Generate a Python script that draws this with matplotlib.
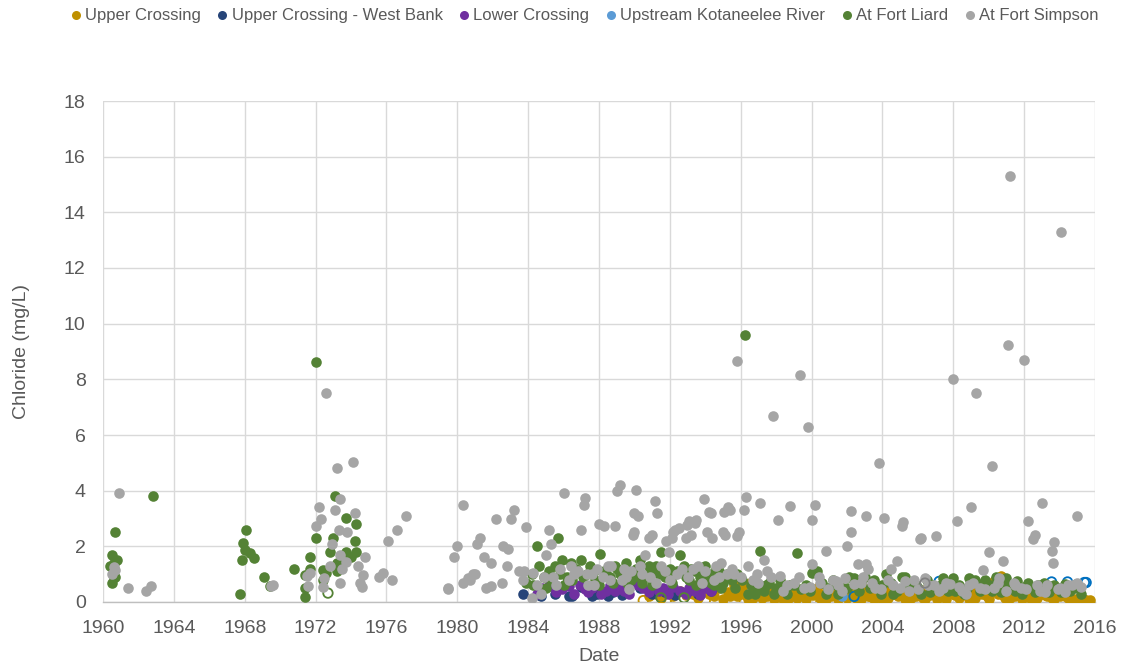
import matplotlib
matplotlib.use("Agg")
import matplotlib.pyplot as plt
from matplotlib.lines import Line2D

plt.rcParams['font.family'] = ['Liberation Sans', 'DejaVu Sans']

# ---------------- data (decimal year, chloride mg/L) ----------------
upper_x = [1990.8,1991.2,1991.5,1991.9,1992.2,1992.6,1992.9,1993.3,1993.6,1993.9,1994.2,1994.5,1994.8,1995.0,1995.3,1995.6,1995.8,1995.95,1996.1,1996.3,1996.5,1996.7,1996.9,1997.1,1997.3,1997.5,1997.7,1997.9,1998.1,1998.3,1998.5,1998.7,1998.9,1999.1,1999.3,1999.5,1999.7,1999.9,2000.1,2000.3,2000.5,2000.7,2000.9,2001.1,2001.3,2001.5,2001.7,2001.9,2002.1,2002.3,2002.5,2002.7,2002.9,2003.1,2003.3,2003.5,2003.7,2003.9,2004.1,2004.3,2004.5,2004.7,2004.9,2005.1,2005.3,2005.5,2005.7,2005.9,2006.1,2006.3,2006.5,2006.7,2006.9,2007.1,2007.3,2007.5,2007.7,2007.9,2008.1,2008.3,2008.5,2008.7,2008.9,2009.1,2009.3,2009.5,2009.7,2009.9,2010.1,2010.3,2010.5,2010.7,2010.9,2011.1,2011.3,2011.5,2011.7,2011.9,2012.1,2012.3,2012.5,2012.7,2012.9,2013.1,2013.3,2013.5,2013.7,2013.9,2014.1,2014.3,2014.5,2014.7,2014.9,2015.1,2015.3,2015.5,2015.7]
upper_y = [0.2,0.3,0.15,0.35,0.2,0.4,0.25,0.3,0.15,0.45,0.3,0.2,0.5,0.1,0.35,0.6,0.2,0.86,0.5,0.25,0.7,0.15,0.4,0.3,0.55,0.2,0.35,0.1,0.45,0.25,0.3,0.15,0.5,0.3,0.2,0.4,0.1,0.35,0.25,0.5,0.15,0.3,0.45,0.2,0.35,0.1,0.4,0.25,0.3,0.5,0.15,0.35,0.2,0.45,0.3,0.1,0.4,0.25,0.35,0.15,0.5,0.3,0.2,0.4,0.1,0.3,0.45,0.2,0.35,0.15,0.5,0.25,0.3,0.1,0.4,0.2,0.35,0.55,0.25,0.15,0.4,0.3,0.1,0.45,0.25,0.35,0.6,0.2,0.4,0.75,0.3,0.92,0.15,0.5,0.3,0.2,0.4,0.1,0.35,0.25,0.45,0.15,0.3,0.5,0.2,0.35,0.1,0.3,0.45,0.2,0.15,0.1,0.12,0.08,0.1,0.07,0.08]
upper_x2 = [1995.4,1995.7,1996.0,1996.4,1996.8,1997.2,1997.6,1998.0,1998.4,1998.8,1999.2,1999.6,2000.0,2000.4,2000.8,2001.2,2001.6,2002.0,2002.4,2002.8,2003.2,2003.6,2004.0,2004.4,2004.8,2005.2,2005.6,2006.0,2006.4,2006.8,2007.2,2007.6,2008.0,2008.4,2008.8,2009.2,2009.6,2010.0,2010.4,2010.8,2011.2,2011.6,2012.0,2012.4,2012.8,2013.2,2013.6,2014.0,2014.4]
upper_y2 = [0.2,0.4,0.3,0.1,0.35,0.15,0.45,0.25,0.1,0.35,0.15,0.25,0.4,0.2,0.1,0.3,0.2,0.15,0.35,0.1,0.2,0.3,0.1,0.25,0.4,0.2,0.15,0.3,0.1,0.4,0.25,0.1,0.3,0.2,0.45,0.15,0.3,0.1,0.5,0.25,0.15,0.3,0.2,0.1,0.4,0.25,0.15,0.2,0.3]
upper_nd_x = [1990.5,1991.8,1994.0,1996.2,1998.0,2000.0,2003.0,2006.0,2009.0,2012.0]
upper_nd_y = [0.05,0.05,0.05,0.05,0.05,0.05,0.05,0.05,0.05,0.05]

west_x = [1983.7,1984.6,1984.7,1985.5,1986.3,1986.5,1987.0,1987.6,1987.9,1988.5,1988.8,1989.3,1989.6,1990.1,1990.3,1991.0,1991.7,1992.3,1993.0,1993.6,1994.3]
west_y = [0.3,0.25,0.2,0.3,0.2,0.2,0.55,0.2,0.3,0.2,0.35,0.25,0.4,0.9,0.5,0.3,0.35,0.25,0.4,0.3,0.4]

lower_x = [1984.5,1984.8,1985.2,1985.4,1985.6,1985.9,1986.2,1986.3,1986.6,1986.9,1987.2,1987.4,1987.6,1987.9,1988.1,1988.4,1988.6,1988.9,1989.1,1989.4,1989.7,1990.0,1990.2,1990.5,1990.8,1991.1,1991.4,1991.6,1991.9,1992.2,1992.6,1992.9,1993.1,1993.4,1993.7,1994.0,1994.3]
lower_y = [0.3,0.5,0.56,0.7,0.35,0.45,0.68,0.56,0.3,0.6,0.45,0.35,0.5,0.65,0.3,0.4,0.6,0.4,0.55,0.4,0.3,0.7,0.6,0.5,0.35,0.6,0.4,0.5,0.3,0.55,0.4,0.3,0.5,0.4,0.25,0.5,0.4]

kotan_x = [2001.7]
kotan_y = [0.2]
kotan_nd_x = [2002.4,2007.2,2013.55,2014.45,2015.4,2015.5]
kotan_nd_y = [0.2,0.74,0.72,0.72,0.7,0.7]

liard_x = [1960.4,1960.5,1960.5,1960.6,1960.7,1960.7,1960.8,1960.6,1962.8,
           1967.76,1967.85,1967.9,1968.0,1968.1,1968.3,1968.5,1969.1,1969.4,
           1970.8,1971.4,1971.4,1971.4,1971.7,1971.7,1972.0,1972.0,1972.4,1972.4,1972.6,1972.8,1973.0,1973.1,1973.2,1973.2,1973.7,1973.7,1974.0,1974.2,1974.3,1974.3,
           1983.9,1984.2,1984.5,1984.6,1984.9,1985.2,1985.5,1985.7,1985.9,1986.2,1986.4,1986.7,1987.0,1987.3,1987.5,1987.8,1988.05,1988.3,1988.6,1988.9,1989.2,1989.5,1989.8,1990.1,1990.3,1990.6,1990.9,1991.2,1991.5,1991.7,1992.0,1992.3,1992.6,1992.8,1993.1,1993.4,1993.7,1994.0,1994.3,1994.6,1994.9,1995.2,1995.5,1995.8,1996.25,1996.4,1996.6,1996.9,1997.1,1997.3,1997.6,1997.9,1998.2,1998.5,1998.8,1999.2,1999.4,1999.7,2000.0,2000.3,2000.6,2000.9,2001.2,2001.5,2001.8,2002.1,2002.4,2002.7,2003.0,2003.3,2003.6,2003.9,2004.2,2004.5,2004.8,2005.1,2005.3,2005.6,2005.9,2006.2,2006.5,2006.8,2007.1,2007.4,2007.7,2008.0,2008.3,2008.6,2008.9,2009.2,2009.5,2009.8,2010.1,2010.4,2010.7,2011.0,2011.3,2011.6,2011.9,2012.2,2012.5,2012.8,2013.1,2013.4,2013.7,2014.0,2014.3,2014.6,2014.9,2015.2]
liard_y = [1.28,1.7,0.68,0.9,2.5,0.9,1.52,1.4,3.8,
           0.29,1.52,2.12,1.88,2.6,1.76,1.58,0.9,0.59,
           1.19,0.98,0.18,0.51,1.6,1.18,8.62,2.29,1.16,0.8,1.04,1.8,2.3,3.8,1.4,1.1,3.02,1.8,1.6,2.2,2.8,1.8,
           0.7,1.0,2.0,1.3,0.9,1.1,1.3,2.3,1.5,0.9,1.4,1.2,1.5,1.0,1.3,0.8,1.72,1.1,0.9,1.3,1.0,1.4,0.8,1.2,1.5,0.9,1.1,1.3,1.8,0.9,1.2,1.0,1.7,1.3,0.8,1.1,0.9,1.3,0.7,1.2,0.5,1.0,0.8,1.0,9.59,0.3,0.6,0.5,1.82,0.4,0.7,0.3,0.8,0.5,0.6,1.76,0.45,0.6,1.05,1.1,0.7,0.5,0.8,0.3,0.5,0.9,0.85,0.4,0.9,0.5,0.6,0.3,1.02,0.7,0.4,0.9,0.9,0.5,0.6,0.3,0.8,0.6,0.5,0.85,0.4,0.85,0.6,0.3,0.85,0.78,0.4,0.8,0.6,0.9,0.35,0.85,0.5,0.75,0.3,0.7,0.5,0.6,0.7,0.35,0.6,0.5,0.65,0.4,0.65,0.3]
liard_x2 = [1984.3,1985.0,1985.3,1985.8,1986.0,1986.5,1987.1,1987.7,1988.0,1988.4,1988.8,1989.0,1989.6,1990.0,1990.4,1990.8,1991.0,1991.4,1992.1,1992.4,1992.9,1993.2,1993.5,1993.9,1994.2,1994.5,1994.8,1995.0,1995.4,1995.7,
            1996.1,1996.8,1997.4,1998.0,1998.6,1999.0,1999.9,2000.8,2001.4,2002.0,2002.8,2003.5,2004.0,2004.6,2005.4,2006.0,2006.7,2007.3,2008.1,2008.8,2009.6,2010.2,2010.9,2011.5,2012.0,2012.6,2013.3,2014.1,2014.8]
liard_y2 = [0.6,0.5,0.8,1.0,0.6,0.8,0.9,1.1,0.6,1.0,0.7,1.2,0.7,0.9,0.7,1.3,0.6,1.0,0.7,1.1,0.9,1.2,0.6,0.8,1.0,0.6,1.1,0.7,1.0,0.5,
            0.8,0.3,0.6,0.5,0.3,0.6,0.4,0.3,0.6,0.5,0.7,0.8,0.6,0.3,0.7,0.5,0.35,0.6,0.4,0.5,0.65,0.4,0.7,0.4,0.55,0.35,0.6,0.35,0.5]
liard_nd_x = [1972.7,1991.5,1992.8]
liard_nd_y = [0.32,0.15,0.15]

simpson_x = [1960.5,1960.6,1960.7,1960.9,1961.4,1962.45,1962.7,1969.5,1969.6,
             1971.5,1971.55,1971.7,1972.0,1972.2,1972.3,1972.4,1972.5,1972.6,1972.8,1972.9,1973.1,1973.2,1973.3,1973.4,1973.4,1973.4,1973.5,1973.7,1973.8,1974.1,1974.2,1974.4,1974.5,1974.6,1974.65,1974.8,1975.6,1975.8,1976.1,1976.3,1976.6,1977.1,
             1979.45,1979.5,1979.8,1980.0,1980.3,1980.3,1980.6,1980.7,1980.9,1981.0,1981.1,1981.3,1981.5,1981.6,1981.9,1981.9,1982.2,1982.5,1982.6,1982.8,1982.85,1983.05,1983.2,1983.5,1983.7,1983.75,1983.9,1984.2,1984.3,1984.5,1984.7,1985.0,1985.15,1985.3,1985.6,1985.4,1986.05,1986.3,1986.6,1986.8,1987.0,1987.15,1987.2,1987.4,1987.6,1987.7,1988.0,1988.3,1988.5,1988.6,1988.9,1989.0,1989.2,1989.4,1989.5,1989.7,1989.9,1990.0,1990.1,1990.2,1990.0,1990.4,1990.6,1990.8,1991.0,1991.15,1991.3,1991.5,1991.8,1991.95,1992.1,1992.15,1992.3,1992.5,1992.4,1992.9,1992.95,1993.1,1993.2,1993.4,1993.5,1993.3,1993.9,1994.1,1994.2,1994.3,1994.4,1994.6,1994.8,1995.0,1995.05,1995.3,1995.1,1995.4,1995.8,1995.8,1995.9,1995.6,1996.2,1996.3,1996.4,1996.7,1997.1,1997.3,1997.5,1997.8,1998.1,1998.2,1998.6,1998.8,1999.3,1999.35,1999.6,1999.8,2000.0,2000.05,2000.2,2000.5,2000.8,2001.2,2001.5,2001.9,2002.0,2002.2,2002.2,2002.6,2002.8,2003.05,2003.1,2003.2,2003.6,2003.8,2004.1,2004.5,2004.8,2004.6,2005.1,2005.15,2005.5,2005.8,2006.1,2006.2,2006.6,2007.0,2007.4,2007.8,2008.0,2008.2,2008.5,2008.9,2009.0,2009.3,2009.5,2009.7,2010.0,2010.2,2010.5,2010.8,2011.1,2011.2,2011.5,2011.8,2012.0,2012.2,2012.5,2012.6,2012.9,2013.0,2013.3,2013.6,2013.65,2013.7,2014.1,2014.0,2014.5,2015.0,2015.2]
simpson_y = [1.0,1.25,1.15,3.92,0.5,0.38,0.59,0.59,0.6,
             0.92,0.58,1.05,2.72,3.4,3.0,0.55,0.85,7.52,1.3,2.1,3.32,4.82,2.6,3.7,0.7,1.7,1.2,1.45,2.5,5.02,3.2,1.28,0.68,0.55,0.97,1.62,0.9,1.05,2.2,0.8,2.6,3.1,
             0.5,0.48,1.6,2.0,3.5,0.68,0.85,0.8,1.0,1.0,2.08,2.3,1.6,0.5,0.58,1.4,3.0,0.7,2.0,1.3,1.9,3.0,3.32,1.1,0.8,1.1,2.7,0.14,1.05,0.6,0.3,1.7,2.6,2.1,0.6,0.9,3.9,0.8,1.0,1.1,2.6,3.5,3.74,0.6,1.0,0.6,2.8,2.72,1.3,0.8,2.72,4.0,4.22,1.2,0.9,0.45,2.42,3.2,4.01,3.1,2.5,1.0,1.7,2.3,2.4,3.62,3.2,1.3,2.2,1.8,2.3,2.5,2.6,2.66,1.0,2.3,2.78,2.9,2.4,2.84,2.95,1.2,3.7,2.5,3.25,3.2,2.3,1.3,0.9,2.5,3.22,3.4,2.4,3.3,8.65,2.36,2.5,1.0,3.3,3.76,1.3,0.8,3.54,1.5,1.1,6.68,2.94,0.95,0.6,3.44,0.9,8.14,0.5,6.3,1.35,2.94,3.5,0.7,1.82,0.8,0.6,0.85,2.0,2.5,3.26,1.35,0.7,3.08,1.35,1.2,0.5,5.0,3.02,1.2,1.46,0.6,2.74,2.86,0.4,0.8,2.28,2.3,0.6,2.38,0.5,0.65,8.0,2.9,0.4,0.6,3.4,7.5,0.5,1.16,1.78,4.88,0.7,1.46,9.25,15.3,0.6,0.5,8.7,2.9,2.27,2.4,0.4,3.56,0.6,1.82,1.4,2.15,13.3,0.5,0.6,3.1,0.55]
simpson_x2 = [1984.9,1985.8,1986.4,1987.3,1987.9,1988.2,1988.7,1989.3,1989.8,1990.3,1990.9,1991.2,1991.7,1992.0,1992.7,1993.0,1993.6,1993.8,1994.0,1994.5,1994.9,1995.2,1995.5,
              1996.0,1996.9,1997.0,1997.7,1998.4,1999.0,1999.9,2000.4,2000.9,2001.4,2001.7,2002.4,2002.9,2003.4,2003.9,2004.3,2005.0,2005.3,2006.0,2006.4,2006.9,2007.2,2007.6,2008.3,2008.7,2009.1,2009.8,2010.3,2010.6,2011.0,2011.4,2012.1,2012.7,2013.2,2013.9,2014.3,2014.7,2015.0]
simpson_y2 = [0.9,1.2,1.3,1.0,1.2,0.9,1.3,0.8,1.1,1.3,0.9,0.7,1.1,0.8,1.2,0.9,1.3,0.7,1.1,0.8,1.4,1.0,1.2,
              0.9,1.0,0.7,0.9,0.4,0.7,0.55,0.9,0.45,0.75,0.4,0.65,0.9,0.7,0.45,0.8,0.5,0.75,0.45,0.85,0.6,0.4,0.7,0.55,0.3,0.7,0.45,0.5,0.85,0.4,0.7,0.45,0.6,0.35,0.45,0.35,0.6,0.7]
simpson_nd_x = [2006.4]
simpson_nd_y = [0.68]

series_names = ["Upper Crossing", "Upper Crossing - West Bank", "Lower Crossing",
                "Upstream Kotaneelee River", "At Fort Liard", "At Fort Simpson"]
series_colors = ["#BF9000", "#264478", "#7030A0", "#5B9BD5", "#548235", "#A5A5A5"]

x_ticks = list(range(1960, 2017, 4))
y_ticks = list(range(0, 19, 2))

# ---------------- figure ----------------
fig = plt.figure(figsize=(11.21, 6.66), dpi=100)
ax = fig.add_axes([103/1121, 1 - 602/666, (1095 - 103)/1121, (602 - 101)/666])

S = 58
filled = [(upper_x + upper_x2, upper_y + upper_y2), (west_x, west_y), (lower_x, lower_y),
          (kotan_x, kotan_y), (liard_x + liard_x2, liard_y + liard_y2),
          (simpson_x + simpson_x2, simpson_y + simpson_y2)]
hollow = [(upper_nd_x, upper_nd_y), None, None,
          (kotan_nd_x, kotan_nd_y), (liard_nd_x, liard_nd_y), (simpson_nd_x, simpson_nd_y)]
hollow_edge = ["#BF9000", "#264478", "#7030A0", "#0070C0", "#548235", "#808080"]

for i, (xs, ys) in enumerate(filled):
    ax.scatter(xs, ys, s=S, color=series_colors[i], linewidths=0, zorder=3 + i * 0.1)
    if hollow[i] is not None:
        hx, hy = hollow[i]
        ax.scatter(hx, hy, s=S * 0.8, facecolors='none', edgecolors=hollow_edge[i],
                   linewidths=1.3, zorder=3 + i * 0.1 + 0.05)

ax.set_xlim(1960, 2016)
ax.set_ylim(0, 18)
ax.set_xticks(x_ticks)
ax.set_yticks(y_ticks)
ax.grid(True, color="#D9D9D9", linewidth=1.0, zorder=0)
ax.set_axisbelow(True)
for side in ["top", "right", "left"]:
    ax.spines[side].set_visible(False)
ax.spines["bottom"].set_color("#BFBFBF")
ax.spines["bottom"].set_linewidth(1.0)
ax.tick_params(axis="both", length=0, labelsize=14, labelcolor="#595959")
ax.tick_params(axis="y", pad=12.5)
ax.tick_params(axis="x", pad=13)

ax.set_xlabel("Date", fontsize=14, color="#595959", labelpad=8)
ax.set_ylabel("Chloride (mg/L)", fontsize=14, color="#595959", labelpad=24)

handles = [Line2D([0], [0], marker='o', linestyle='none', markersize=6.5,
                  markerfacecolor=c, markeredgewidth=0) for c in series_colors]
fig.legend(handles, series_names, loc="upper center", bbox_to_anchor=(0.52, 1.01),
           ncol=6, frameon=False, fontsize=12, labelcolor="#595959",
           handletextpad=0.05, columnspacing=0.8, handlelength=1.0)

fig.savefig("out.png", dpi=100)
